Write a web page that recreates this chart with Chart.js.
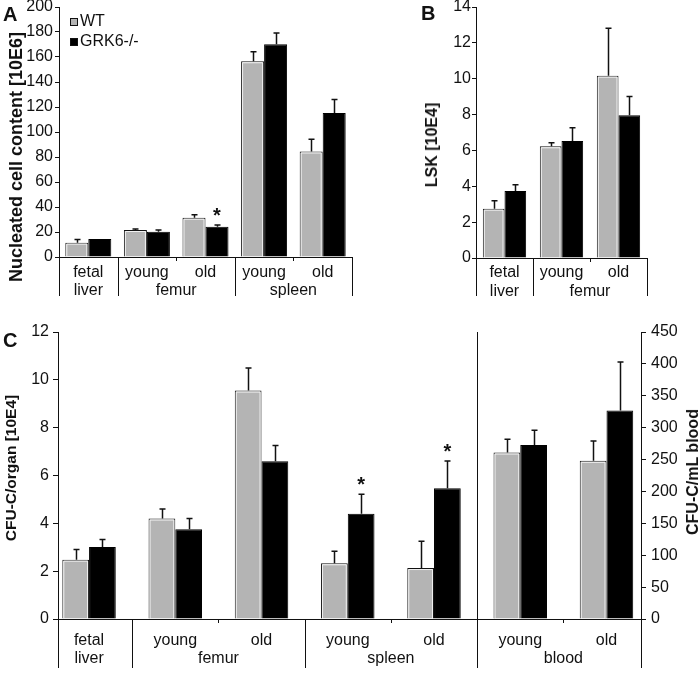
<!DOCTYPE html>
<html>
<head>
<meta charset="utf-8">
<title>GRK6 cell content, LSK and CFU-C</title>
<script src="https://cdn.jsdelivr.net/npm/chart.js@4.4.1/dist/chart.umd.min.js"></script>
<style>
  body { margin: 0; background: #fff; font-family: "Liberation Sans", Arial, sans-serif; color: #111; }
  #page { position: relative; width: 700px; height: 673px; overflow: hidden; }
  .box { position: absolute; }
  .letter { position: absolute; font-weight: bold; font-size: 20px; line-height: 1; }
  .ytitle { position: absolute; font-weight: bold; white-space: nowrap; line-height: 1;
            transform: translate(-50%, -50%) rotate(-90deg); }
</style>
</head>
<body>
<div id="page">
  <div class="box" style="left:0;top:-10px;width:360px;height:315px"><canvas id="chartA"></canvas></div>
  <div class="box" style="left:360px;top:-10px;width:340px;height:315px"><canvas id="chartB"></canvas></div>
  <div class="box" style="left:0;top:315px;width:700px;height:358px"><canvas id="chartC"></canvas></div>

  <div class="letter" style="left:3px;top:4px">A</div>
  <div class="letter" style="left:421px;top:3px">B</div>
  <div class="letter" style="left:3px;top:330px">C</div>

  <div class="ytitle" style="left:16px;top:157px;font-size:18px">Nucleated cell content [10E6]</div>
  <div class="ytitle" style="left:432px;top:145px;font-size:16px">LSK [10E4]</div>
  <div class="ytitle" style="left:11px;top:468px;font-size:15.5px">CFU-C/organ [10E4]</div>
  <div class="ytitle" style="left:693px;top:472px;font-size:16px">CFU-C/mL blood</div>
</div>

<script>
// ---------- data, panel A: nucleated cell content [10E6]
var catsA = ['fetal', 'young', 'old', 'young', 'old'];
var groupsA = ['liver', 'femur', 'femur', 'spleen', 'spleen'];
var wtA = [11.5, 21.6, 31.4, 156.6, 84.4];
var wtErrA = [2.6, 0.8, 2.4, 7.6, 9.9];
var koA = [14.4, 20.2, 24.2, 170.2, 115.3];
var koErrA = [0, 1.4, 1.4, 9, 10.7];
var koStarA = [0, 0, 1, 0, 0];
var yTicksA = [0, 20, 40, 60, 80, 100, 120, 140, 160, 180, 200];

// ---------- data, panel B: LSK [10E4]
var catsB = ['fetal', 'young', 'old'];
var groupsB = ['liver', 'femur', 'femur'];
var wtB = [2.75, 6.23, 10.17];
var wtErrB = [0.45, 0.2, 2.65];
var koB = [3.74, 6.52, 7.96];
var koErrB = [0.35, 0.75, 1.05];
var yTicksB = [0, 2, 4, 6, 8, 10, 12, 14];

// ---------- data, panel C: CFU-C per organ [10E4] and per mL blood
var catsC = ['fetal', 'young', 'old', 'young', 'old', 'young', 'old'];
var groupsC = ['liver', 'femur', 'femur', 'spleen', 'spleen', 'blood', 'blood'];
var wtOrganC = [2.48, 4.2, 9.55, 2.33, 2.13];
var wtOrganErrC = [0.43, 0.4, 0.95, 0.5, 1.12];
var koOrganC = [3.01, 3.75, 6.6, 4.4, 5.47];
var koOrganErrC = [0.31, 0.45, 0.65, 0.82, 1.14];
var koOrganStarC = [0, 0, 0, 1, 1];
var wtBloodC = [261, 248];
var wtBloodErrC = [21, 31];
var koBloodC = [273, 327];
var koBloodErrC = [23, 76];
var yTicksC = [0, 2, 4, 6, 8, 10, 12];
var y1TicksC = [0, 50, 100, 150, 200, 250, 300, 350, 400, 450];

var GRAY = '#b4b4b4';
var INK = '#111';
var FONT = '"Liberation Sans", Arial, sans-serif';

Chart.defaults.font.family = FONT;
Chart.defaults.font.size = 16;
Chart.defaults.color = INK;

function valueOf(d) {
    if (d !== null && typeof d === 'object') return d.y;
    return d;
}

function crisp(v) {
    return Math.round(v) + 0.5;
}

// one sided error bars (upwards), significance stars, light inner edge on grey bars
var errorBarPlugin = {
    id: 'errorBars',
    afterDatasetsDraw: function (chart) {
        var ctx = chart.ctx;
        ctx.save();
        chart.data.datasets.forEach(function (ds, di) {
            if (!ds.errors) return;
            var meta = chart.getDatasetMeta(di);
            var yScale = chart.scales[meta.yAxisID];
            meta.data.forEach(function (bar, i) {
                var v = valueOf(ds.data[i]);
                if (v === null || v === undefined) return;

                if (ds.highlight) {
                    var l = bar.x - bar.width / 2 + 1.5;
                    var r = bar.x + bar.width / 2 - 1.5;
                    var t = bar.y + 1.5;
                    ctx.strokeStyle = 'rgba(255,255,255,0.8)';
                    ctx.lineWidth = 1;
                    ctx.beginPath();
                    ctx.moveTo(l, bar.base);
                    ctx.lineTo(l, t);
                    ctx.lineTo(r, t);
                    ctx.lineTo(r, bar.base);
                    ctx.stroke();
                }

                var err = ds.errors[i] || 0;
                var top = yScale.getPixelForValue(v + err);
                var x = crisp(bar.x);
                if (err > 0) {
                    ctx.strokeStyle = INK;
                    ctx.lineWidth = 1.5;
                    ctx.beginPath();
                    ctx.moveTo(x, bar.y);
                    ctx.lineTo(x, top);
                    ctx.moveTo(x - 3, top);
                    ctx.lineTo(x + 3, top);
                    ctx.stroke();
                }
                if (ds.stars && ds.stars[i]) {
                    ctx.fillStyle = INK;
                    ctx.font = 'bold 20px ' + FONT;
                    ctx.textAlign = 'center';
                    ctx.textBaseline = 'alphabetic';
                    ctx.fillText('*', bar.x, top - 3);
                }
            });
        });
        ctx.restore();
    }
};

// two row category labels with group separators under the x axis
var groupAxisPlugin = {
    id: 'groupAxis',
    afterDraw: function (chart, args, opts) {
        var ctx = chart.ctx;
        var x = chart.scales.x;
        var area = chart.chartArea;
        var bottom = area.bottom;
        var cats = opts.cats, groups = opts.groups;
        var full = opts.fullBefore || [];

        function line(x0, y0, y1) {
            ctx.beginPath();
            ctx.moveTo(crisp(x0), y0);
            ctx.lineTo(crisp(x0), y1);
            ctx.stroke();
        }

        ctx.save();
        ctx.fillStyle = INK;
        ctx.strokeStyle = INK;
        ctx.lineWidth = 1;
        ctx.font = '16px ' + FONT;
        ctx.textAlign = 'center';
        ctx.textBaseline = 'alphabetic';

        for (var i = 0; i < cats.length; i++) {
            ctx.fillText(cats[i], x.getPixelForValue(i), bottom + opts.row1);
        }

        line(area.left, bottom, bottom + opts.sepLen);
        line(area.right, bottom, bottom + opts.sepLen);

        var start = 0;
        for (var j = 1; j <= groups.length; j++) {
            if (j < groups.length && groups[j] === groups[start]) continue;
            var mid = (x.getPixelForValue(start) + x.getPixelForValue(j - 1)) / 2;
            ctx.fillText(groups[start], mid, bottom + opts.row2);
            for (var k = start + 1; k < j; k++) {
                var tx = (x.getPixelForValue(k - 1) + x.getPixelForValue(k)) / 2;
                line(tx, bottom, bottom + 4);
            }
            if (j < groups.length) {
                var sx = (x.getPixelForValue(j - 1) + x.getPixelForValue(j)) / 2;
                var sTop = full.indexOf(groups[j]) >= 0 ? area.top : bottom;
                line(sx, sTop, bottom + opts.sepLen);
            }
            start = j;
        }
        ctx.restore();
    }
};

// small square legend inside the plot area
var boxLegendPlugin = {
    id: 'boxLegend',
    afterDraw: function (chart, args, opts) {
        if (!opts.show) return;
        var ctx = chart.ctx;
        var area = chart.chartArea;
        ctx.save();
        ctx.font = '16px ' + FONT;
        ctx.textAlign = 'left';
        ctx.textBaseline = 'middle';
        chart.data.datasets.forEach(function (ds, i) {
            var bx = area.left + opts.x;
            var by = area.top + opts.y + i * opts.gap;
            ctx.fillStyle = ds.backgroundColor;
            ctx.fillRect(bx, by - 4, 8, 8);
            ctx.strokeStyle = INK;
            ctx.lineWidth = 1;
            ctx.strokeRect(bx + 0.5, by - 3.5, 7, 7);
            ctx.fillStyle = INK;
            ctx.fillText(ds.label, bx + 10, by);
        });
        ctx.restore();
    }
};

function yAxis(ticks, width, tickLen, pad, position) {
    return {
        position: position || 'left',
        min: ticks[0],
        max: ticks[ticks.length - 1],
        ticks: { stepSize: ticks[1] - ticks[0], padding: pad, color: INK },
        grid: { drawOnChartArea: false, tickLength: tickLen, color: INK },
        border: { color: INK },
        afterFit: function (s) { s.width = width; }
    };
}

function xAxisHidden(height) {
    return {
        grid: { drawOnChartArea: false, drawTicks: false, color: INK },
        ticks: { display: false },
        border: { color: INK },
        afterFit: function (s) { s.height = height; }
    };
}

// Panel A
new Chart(document.getElementById('chartA'), {
    type: 'bar',
    data: {
        labels: catsA,
        datasets: [
            { label: 'WT', data: wtA, errors: wtErrA, highlight: true, backgroundColor: GRAY, borderColor: INK, borderWidth: 1 },
            { label: 'GRK6-/-', data: koA, errors: koErrA, stars: koStarA, backgroundColor: '#000', borderColor: '#000', borderWidth: 1 }
        ]
    },
    options: {
        responsive: true,
        maintainAspectRatio: false,
        animation: false,
        categoryPercentage: 0.785,
        barPercentage: 1,
        layout: { padding: { top: 17, right: 8, bottom: 9, left: 0 } },
        plugins: {
            legend: { display: false },
            tooltip: { enabled: false },
            groupAxis: { cats: catsA, groups: groupsA, row1: 20, row2: 38, sepLen: 39 },
            boxLegend: { show: true, x: 11, y: 15, gap: 20 }
        },
        scales: {
            x: xAxisHidden(39),
            y: yAxis(yTicksA, 59, 4, 2)
        }
    },
    plugins: [errorBarPlugin, groupAxisPlugin, boxLegendPlugin]
});

// Panel B
new Chart(document.getElementById('chartB'), {
    type: 'bar',
    data: {
        labels: catsB,
        datasets: [
            { label: 'WT', data: wtB, errors: wtErrB, highlight: true, backgroundColor: GRAY, borderColor: INK, borderWidth: 1 },
            { label: 'GRK6-/-', data: koB, errors: koErrB, backgroundColor: '#000', borderColor: '#000', borderWidth: 1 }
        ]
    },
    options: {
        responsive: true,
        maintainAspectRatio: false,
        animation: false,
        categoryPercentage: 0.76,
        barPercentage: 1,
        layout: { padding: { top: 17, right: 53, bottom: 9, left: 0 } },
        plugins: {
            legend: { display: false },
            tooltip: { enabled: false },
            groupAxis: { cats: catsB, groups: groupsB, row1: 19, row2: 38, sepLen: 38 },
            boxLegend: { show: false }
        },
        scales: {
            x: xAxisHidden(38),
            y: yAxis(yTicksB, 116, 4, 1)
        }
    },
    plugins: [errorBarPlugin, groupAxisPlugin, boxLegendPlugin]
});

// Panel C: organs on the left axis, blood on the right axis
var nBlood = wtBloodC.map(function () { return null; });
var nOrgan = wtOrganC.map(function () { return null; });

function points(values) {
    return values.map(function (v, i) { return { x: i, y: v }; });
}

new Chart(document.getElementById('chartC'), {
    type: 'bar',
    data: {
        datasets: [
            { label: 'WT', data: points(wtOrganC.concat(nBlood)), errors: wtOrganErrC, highlight: true, yAxisID: 'y',
              backgroundColor: GRAY, borderColor: INK, borderWidth: 1 },
            { label: 'GRK6-/-', data: points(koOrganC.concat(nBlood)), errors: koOrganErrC, stars: koOrganStarC, yAxisID: 'y',
              backgroundColor: '#000', borderColor: '#000', borderWidth: 1 },
            { label: 'WT', data: points(nOrgan.concat(wtBloodC)), errors: nOrgan.concat(wtBloodErrC), highlight: true, yAxisID: 'y1',
              backgroundColor: GRAY, borderColor: INK, borderWidth: 1 },
            { label: 'GRK6-/-', data: points(nOrgan.concat(koBloodC)), errors: nOrgan.concat(koBloodErrC), yAxisID: 'y1',
              backgroundColor: '#000', borderColor: '#000', borderWidth: 1 }
        ]
    },
    options: {
        responsive: true,
        maintainAspectRatio: false,
        animation: false,
        skipNull: true,
        categoryPercentage: 0.62,
        barPercentage: 1,
        layout: { padding: { top: 17, right: 0, bottom: 5, left: 0 } },
        plugins: {
            legend: { display: false },
            tooltip: { enabled: false },
            groupAxis: { cats: catsC, groups: groupsC, row1: 26, row2: 44, sepLen: 49, fullBefore: ['blood'] },
            boxLegend: { show: false }
        },
        scales: {
            x: {
                type: 'linear',
                offset: false,
                min: -0.36,
                max: catsC.length - 0.6,
                grid: { drawOnChartArea: false, drawTicks: false, color: INK },
                ticks: { display: false, stepSize: 1, includeBounds: false },
                border: { color: INK },
                afterFit: function (s) { s.height = 49; }
            },
            y: yAxis(yTicksC, 58, 5, 4),
            y1: yAxis(y1TicksC, 59, 5, 5, 'right')
        }
    },
    plugins: [errorBarPlugin, groupAxisPlugin, boxLegendPlugin]
});
</script>
</body>
</html>
